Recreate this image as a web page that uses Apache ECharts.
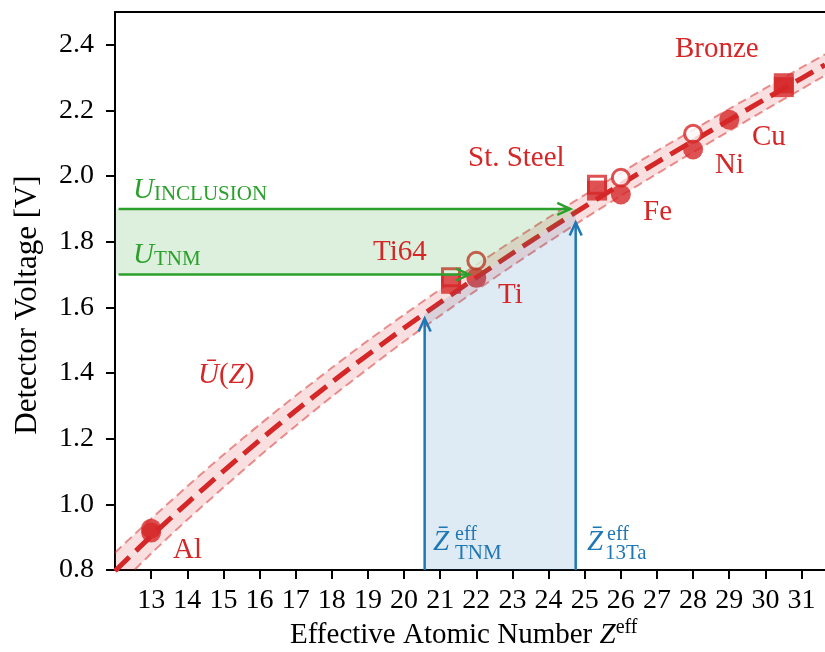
<!DOCTYPE html>
<html>
<head>
<meta charset="utf-8">
<script src="https://cdn.jsdelivr.net/npm/echarts@6/dist/echarts.min.js"></script>
<style>
html, body { margin: 0; padding: 0; background: #fff; }
#chart { width: 825px; height: 652px; }
</style>
</head>
<body>
<div id="chart"></div>
<script>
// fitted curve U(Z), with its uncertainty band
const zGrid = [12, 13, 14, 15, 16, 17, 18, 19, 20, 21, 22, 23, 24, 25, 26, 27, 28, 29, 30, 31, 31.65]
const uMean = [0.797, 0.903, 1.004, 1.101, 1.195, 1.285, 1.372, 1.456, 1.537, 1.615, 1.691, 1.765, 1.837, 1.907, 1.975, 2.042, 2.107, 2.171, 2.235, 2.298, 2.339]
const uUpper = [0.853, 0.956, 1.055, 1.151, 1.243, 1.331, 1.416, 1.499, 1.578, 1.655, 1.730, 1.803, 1.874, 1.943, 2.010, 2.077, 2.141, 2.205, 2.268, 2.331, 2.371]
const uLower = [0.741, 0.850, 0.953, 1.051, 1.147, 1.239, 1.328, 1.413, 1.496, 1.575, 1.652, 1.727, 1.800, 1.871, 1.940, 2.007, 2.073, 2.137, 2.202, 2.265, 2.307]

// measured materials
const filledCircles = [[13, 0.926], [13, 0.914], [22.0, 1.69], [26.0, 1.944], [28.0, 2.081], [29.0, 2.172]]
const openCircles = [[22.0, 1.742], [26.0, 1.995], [28.0, 2.129]]
const filledSquares = [[21.3, 1.672], [25.34, 1.956], [30.51, 2.283], [30.51, 2.271]]
const openSquares = [[21.3, 1.692], [25.34, 1.974]]

// voltage levels and effective Z values
const uTNM = 1.7
const uInclusion = 1.9
const zAtUTNM = 22.12
const zAtUInclusion = 24.9
const zTNM = 20.57
const z13Ta = 24.75
const uAtZTNM = 1.581
const uAtZ13Ta = 1.889
const greenArrows = [[12.1, 1.7, 21.8, 1.7], [12.1, 1.9, 24.6, 1.9]]
const blueArrows = [[20.57, 0.8, 20.57, 1.566], [24.75, 0.8, 24.75, 1.859]]

const xTicks = [13, 14, 15, 16, 17, 18, 19, 20, 21, 22, 23, 24, 25, 26, 27, 28, 29, 30, 31]
const yTicks = [0.8, 1.0, 1.2, 1.4, 1.6, 1.8, 2.0, 2.2, 2.4]

const RED = '#d62728'
const GREEN = '#2ca02c'
const BLUE = '#1f77b4'
const FONT = '"Liberation Serif", "DejaVu Serif", serif'

const zip = (xs, ys) => xs.map((x, i) => [x, ys[i]])
const meanPts = zip(zGrid, uMean)
const bandPoly = zip(zGrid, uUpper).concat(zip(zGrid, uLower).reverse())
const greenPoly = [[12, uTNM], [zAtUTNM, uTNM]]
    .concat(meanPts.filter(p => p[1] > uTNM && p[1] < uInclusion))
    .concat([[zAtUInclusion, uInclusion], [12, uInclusion]])
const bluePoly = [[zTNM, 0.8], [zTNM, uAtZTNM]]
    .concat(meanPts.filter(p => p[0] > zTNM && p[0] < z13Ta))
    .concat([[z13Ta, uAtZ13Ta], [z13Ta, 0.8]])

const polygonSeries = function (points, color, z) {
    return {
        type: 'custom',
        z: z,
        clip: true,
        silent: true,
        data: [[points[0][0], points[0][1]]],
        renderItem: function (params, api) {
            return {
                type: 'polygon',
                shape: { points: points.map(p => api.coord(p)) },
                style: { fill: color }
            }
        }
    }
}

const arrowSeries = function (arrows, color) {
    return {
        type: 'custom',
        z: 10,
        silent: true,
        data: arrows,
        renderItem: function (params, api) {
            const p0 = api.coord([api.value(0), api.value(1)])
            const p1 = api.coord([api.value(2), api.value(3)])
            const ang = Math.atan2(p1[1] - p0[1], p1[0] - p0[0])
            const L = 13, W = 6
            const bx = p1[0] - L * Math.cos(ang), by = p1[1] - L * Math.sin(ang)
            const nx = -Math.sin(ang) * W, ny = Math.cos(ang) * W
            return {
                type: 'group',
                children: [
                    { type: 'line', shape: { x1: p0[0], y1: p0[1], x2: p1[0], y2: p1[1] }, style: { stroke: color, lineWidth: 2.5 } },
                    { type: 'polyline', shape: { points: [[bx + nx, by + ny], p1, [bx - nx, by - ny]] }, style: { stroke: color, lineWidth: 2.5, fill: null } }
                ]
            }
        }
    }
}

const scatter = function (data, symbol, open, z) {
    return {
        type: 'scatter',
        z: z,
        data: data,
        symbol: symbol,
        symbolSize: open ? 17 : 20,
        itemStyle: open
            ? { color: '#fff', borderColor: RED, borderWidth: 3 }
            : { color: RED }
    }
}

// text placed by left edge and baseline
const txt = function (x, baseline, text, color, size, opts) {
    const o = opts || {}
    return {
        type: 'text',
        x: x,
        y: baseline - 0.34 * size,
        z: 100,
        style: {
            text: text,
            fill: color,
            fontSize: size,
            fontFamily: FONT,
            fontStyle: o.italic ? 'italic' : 'normal',
            align: 'left',
            verticalAlign: 'middle',
            rich: o.rich
        }
    }
}

const subRich = function (color) {
    return {
        u: { fontSize: 29, fontFamily: FONT, fontStyle: 'italic', fill: color, lineHeight: 30 },
        s: { fontSize: 21, fontFamily: FONT, fill: color, lineHeight: 21, verticalAlign: 'bottom' }
    }
}

const chart = echarts.init(document.getElementById('chart'))

const axisCommon = {
    axisLine: { show: true, onZero: false, lineStyle: { color: '#000', width: 2 } },
    axisTick: { show: true, length: 9, lineStyle: { color: '#000', width: 2 } },
    splitLine: { show: false }
}

chart.setOption({
    animation: false,
    grid: { left: 115, right: 0, top: 12, bottom: 82 },
    xAxis: [{
        type: 'value',
        min: 12,
        max: 31.65,
        ...axisCommon,
        axisTick: { ...axisCommon.axisTick, customValues: xTicks },
        axisLabel: {
            customValues: xTicks,
            color: '#000',
            fontSize: 28,
            fontFamily: FONT,
            margin: 17
        }
    }, {
        type: 'value',
        position: 'top',
        min: 12,
        max: 31.65,
        axisLine: { show: true, onZero: false, lineStyle: { color: '#000', width: 2 } },
        axisTick: { show: false },
        axisLabel: { show: false },
        splitLine: { show: false }
    }],
    yAxis: {
        type: 'value',
        min: 0.8,
        max: 2.5,
        ...axisCommon,
        axisTick: { ...axisCommon.axisTick, customValues: yTicks },
        axisLabel: {
            customValues: yTicks,
            color: '#000',
            fontSize: 28,
            fontFamily: FONT,
            margin: 21,
            formatter: v => v.toFixed(1)
        }
    },
    series: [
        polygonSeries(bandPoly, 'rgba(214,39,40,0.15)', 1),
        {
            type: 'line', z: 2, data: zip(zGrid, uUpper), symbol: 'none', smooth: 0.3, silent: true,
            lineStyle: { color: 'rgba(214,39,40,0.5)', width: 2, type: [9, 5] }
        },
        {
            type: 'line', z: 2, data: zip(zGrid, uLower), symbol: 'none', smooth: 0.3, silent: true,
            lineStyle: { color: 'rgba(214,39,40,0.5)', width: 2, type: [9, 5] }
        },
        {
            type: 'line', z: 3, data: meanPts, symbol: 'none', smooth: 0.3, silent: true,
            lineStyle: { color: RED, width: 5, type: [20, 9] }
        },
        scatter(openSquares, 'rect', true, 4),
        scatter(openCircles, 'circle', true, 4),
        scatter(filledSquares, 'rect', false, 5),
        scatter(filledCircles, 'circle', false, 5),
        polygonSeries(greenPoly, 'rgba(44,160,44,0.16)', 6),
        polygonSeries(bluePoly, 'rgba(31,119,180,0.15)', 6),
        arrowSeries(greenArrows, GREEN),
        arrowSeries(blueArrows, BLUE)
    ],
    graphic: [
        txt(290, 645, '{r|Effective Atomic Number }{i|Z}{s|eff}', '#000', 29, {
            rich: {
                r: { fontSize: 29, fontFamily: FONT, lineHeight: 34 },
                i: { fontSize: 29, fontFamily: FONT, fontStyle: 'italic', lineHeight: 34 },
                s: { fontSize: 20, fontFamily: FONT, lineHeight: 20, verticalAlign: 'top' }
            }
        }),
        {
            type: 'text', x: 28, y: 305, rotation: Math.PI / 2, z: 100,
            style: { text: 'Detector Voltage [V]', fill: '#000', fontSize: 31, fontFamily: FONT, align: 'center', verticalAlign: 'middle' }
        },
        txt(675, 59, 'Bronze', RED, 29),
        txt(752, 147, 'Cu', RED, 29),
        txt(715, 175, 'Ni', RED, 29),
        txt(643, 222, 'Fe', RED, 29),
        txt(468, 168, 'St. Steel', RED, 29),
        txt(373, 262, 'Ti64', RED, 29),
        txt(498, 305, 'Ti', RED, 29),
        txt(173, 560, 'Al', RED, 29),
        txt(198, 385, '{i|Ū}{r|(}{i|Z}{r|)}', RED, 29, {
            rich: {
                i: { fontSize: 29, fontFamily: FONT, fontStyle: 'italic', fill: RED },
                r: { fontSize: 29, fontFamily: FONT, fill: RED }
            }
        }),
        txt(133, 200, '{u|U}{s|INCLUSION}', GREEN, 29, { rich: subRich(GREEN) }),
        txt(133, 265, '{u|U}{s|TNM}', GREEN, 29, { rich: subRich(GREEN) }),
        txt(433, 552, 'Z\u0304', BLUE, 29, { italic: true }),
        txt(455, 542, 'eff', BLUE, 20),
        txt(455, 561, 'TNM', BLUE, 21),
        txt(587, 552, 'Z\u0304', BLUE, 29, { italic: true }),
        txt(607, 542, 'eff', BLUE, 20),
        txt(605, 561, '13Ta', BLUE, 21)
    ]
})
</script>
</body>
</html>
